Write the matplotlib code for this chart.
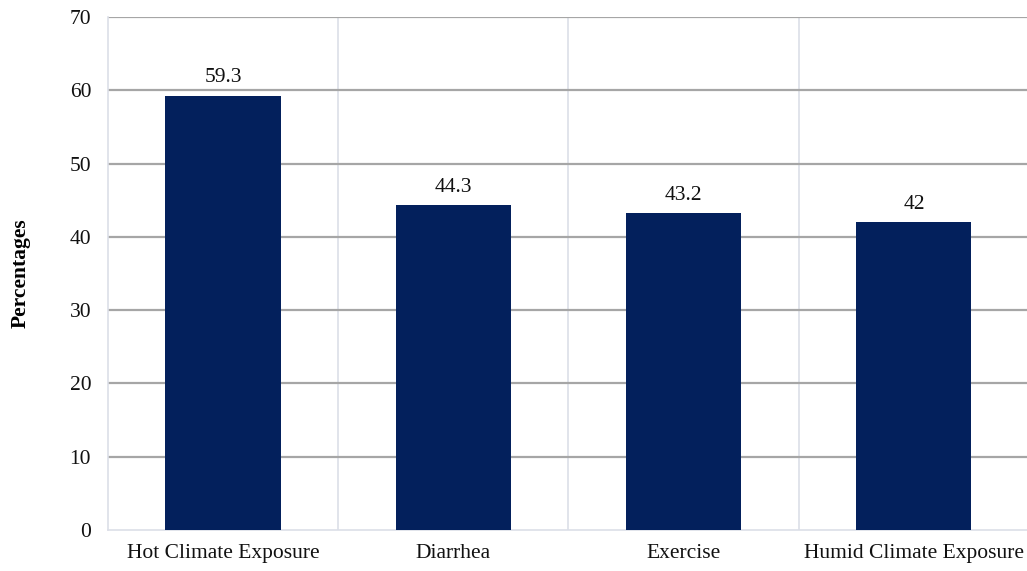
import matplotlib.pyplot as plt

categories = ["Hot Climate Exposure", "Diarrhea", "Exercise", "Humid Climate Exposure"]
values = [59.3, 44.3, 43.2, 42]
value_labels = ["59.3", "44.3", "43.2", "42"]
yticks = [0, 10, 20, 30, 40, 50, 60, 70]

plt.rcParams["font.family"] = ["Liberation Serif", "DejaVu Serif"]

fig = plt.figure(figsize=(10.27, 5.71), dpi=100)
ax = fig.add_axes([0.105, 0.072, 0.897, 0.898])

x = range(len(categories))
bars = ax.bar(x, values, width=0.5, color="#03205c", zorder=3)

for b, lab in zip(bars, value_labels):
    ax.annotate(lab, (b.get_x() + b.get_width() / 2, b.get_height()),
                xytext=(0, 6), textcoords="offset points",
                ha="center", va="bottom", fontsize=15.5, color="#111111")

ax.set_xlim(-0.5, 3.5)
ax.set_ylim(0, 70)
ax.set_yticks(yticks)
ax.set_xticks(list(x))
ax.set_xticklabels(categories)

# gridlines: horizontal gray, vertical separators light
for y in yticks[1:]:
    ax.axhline(y, color="#a6a6a6", lw=1.6, zorder=1)
for sep in [0.5, 1.5, 2.5]:
    ax.axvline(sep, color="#dcdfe8", lw=1.2, zorder=0)

for s in ["top", "right"]:
    ax.spines[s].set_visible(False)
ax.spines["left"].set_color("#dcdfe8")
ax.spines["bottom"].set_color("#dcdfe8")
ax.spines["left"].set_linewidth(1.2)
ax.spines["bottom"].set_linewidth(1.2)

ax.tick_params(axis="both", length=0, labelsize=15.5, colors="#111111")
ax.tick_params(axis="y", pad=12)
ax.tick_params(axis="x", pad=10)

ax.set_ylabel("Percentages", fontsize=15.5, fontweight="bold", labelpad=28)

fig.savefig("out.png", dpi=100)
